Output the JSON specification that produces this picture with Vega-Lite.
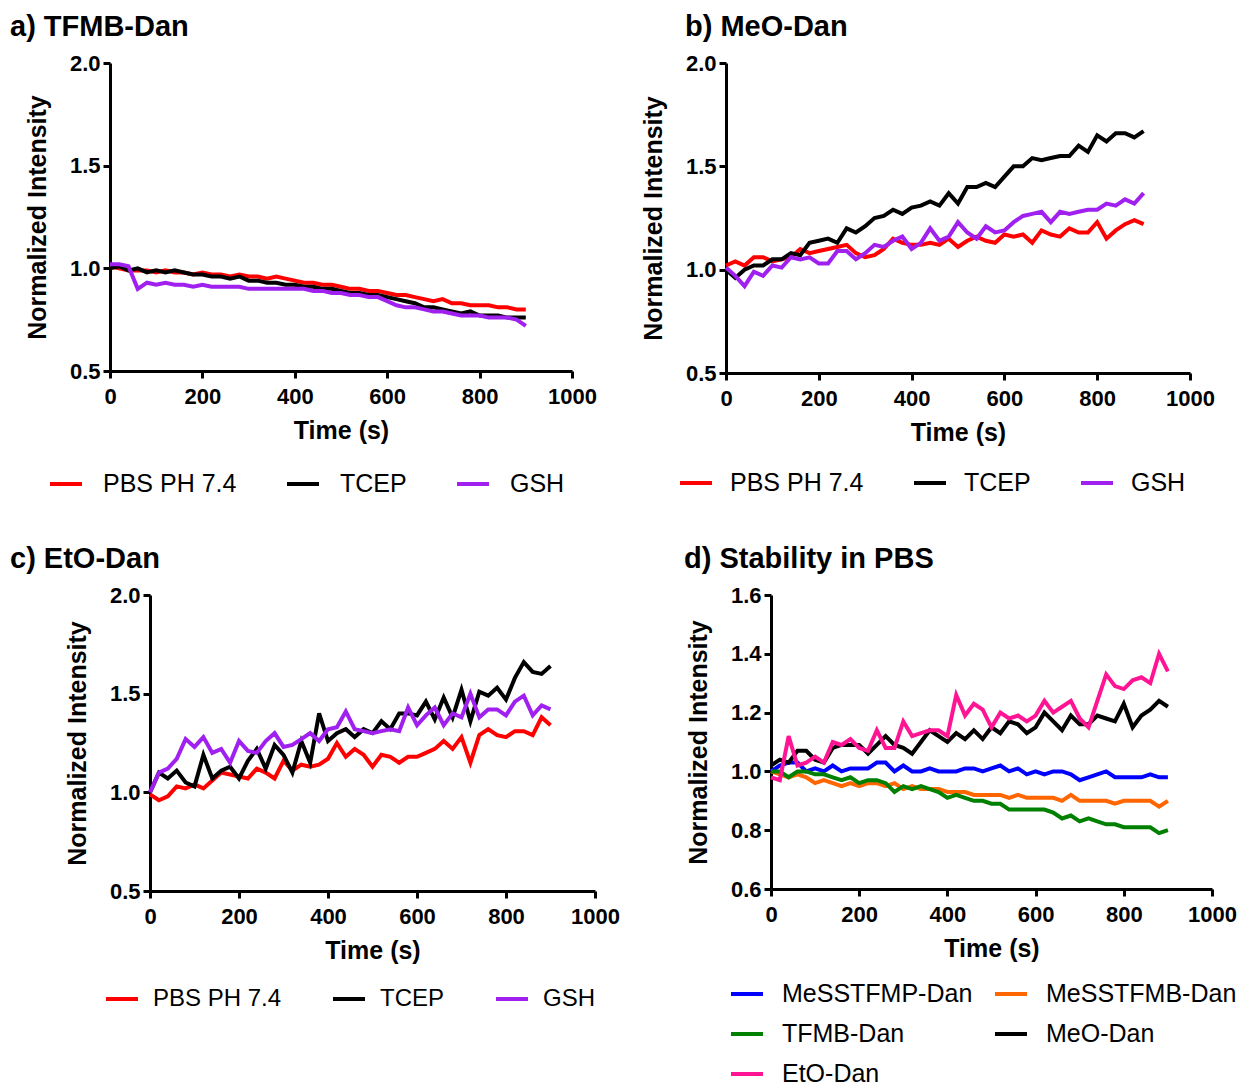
{
"$schema": "https://vega.github.io/schema/vega-lite/v6.json",
"background": "white",
"padding": {"left": 10, "top": 13, "right": 5, "bottom": 0},
"config": {
  "font": "Liberation Sans",
  "view": {"stroke": null},
  "axis": {"grid": false, "domainColor": "black", "domainWidth": 3, "tickColor": "black", "tickWidth": 3, "tickSize": 7, "labelFont": "Liberation Sans", "labelFontWeight": "bold", "labelFontSize": 22, "labelColor": "black", "labelFlush": false, "labelOverlap": false, "titleFont": "Liberation Sans", "titleFontSize": 25, "titleFontWeight": "bold", "titleColor": "black"},
  "axisX": {"labelPadding": 8, "titlePadding": 11},
  "axisY": {"labelPadding": 3, "titlePadding": 19},
  "legend": {"symbolType": "stroke", "symbolStrokeWidth": 4, "symbolSize": 1024, "labelFont": "Liberation Sans", "labelFontSize": 25, "labelColor": "black", "labelOffset": 19, "labelLimit": 400, "columnPadding": 42, "direction": "horizontal", "orient": "none"},
  "title": {"font": "Liberation Sans", "fontSize": 29, "fontWeight": "bold", "color": "black", "anchor": "start", "frame": "group", "offset": 10},
  "line": {"strokeWidth": 4}
},
"datasets": {
  "a": [
    {"t":0,"PBS":1.01,"TCEP":1.00,"GSH":1.02},{"t":20,"PBS":1.00,"TCEP":1.01,"GSH":1.02},{"t":40,"PBS":0.99,"TCEP":0.99,"GSH":1.01},{"t":60,"PBS":0.99,"TCEP":1.00,"GSH":0.90},{"t":80,"PBS":0.99,"TCEP":0.98,"GSH":0.93},{"t":100,"PBS":0.98,"TCEP":0.99,"GSH":0.92},{"t":120,"PBS":0.99,"TCEP":0.98,"GSH":0.93},{"t":140,"PBS":0.98,"TCEP":0.99,"GSH":0.92},{"t":160,"PBS":0.98,"TCEP":0.98,"GSH":0.92},{"t":180,"PBS":0.97,"TCEP":0.97,"GSH":0.91},{"t":200,"PBS":0.98,"TCEP":0.97,"GSH":0.92},{"t":220,"PBS":0.97,"TCEP":0.96,"GSH":0.91},{"t":240,"PBS":0.97,"TCEP":0.96,"GSH":0.91},{"t":260,"PBS":0.96,"TCEP":0.95,"GSH":0.91},{"t":280,"PBS":0.97,"TCEP":0.96,"GSH":0.91},{"t":300,"PBS":0.96,"TCEP":0.94,"GSH":0.90},{"t":320,"PBS":0.96,"TCEP":0.94,"GSH":0.90},{"t":340,"PBS":0.95,"TCEP":0.93,"GSH":0.90},{"t":360,"PBS":0.96,"TCEP":0.93,"GSH":0.90},{"t":380,"PBS":0.95,"TCEP":0.92,"GSH":0.90},{"t":400,"PBS":0.94,"TCEP":0.92,"GSH":0.90},{"t":420,"PBS":0.93,"TCEP":0.91,"GSH":0.90},{"t":440,"PBS":0.93,"TCEP":0.91,"GSH":0.89},{"t":460,"PBS":0.92,"TCEP":0.90,"GSH":0.89},{"t":480,"PBS":0.92,"TCEP":0.90,"GSH":0.88},{"t":500,"PBS":0.91,"TCEP":0.89,"GSH":0.88},{"t":520,"PBS":0.90,"TCEP":0.88,"GSH":0.87},{"t":540,"PBS":0.90,"TCEP":0.88,"GSH":0.87},{"t":560,"PBS":0.89,"TCEP":0.87,"GSH":0.86},{"t":580,"PBS":0.89,"TCEP":0.87,"GSH":0.86},{"t":600,"PBS":0.88,"TCEP":0.86,"GSH":0.84},{"t":620,"PBS":0.87,"TCEP":0.85,"GSH":0.82},{"t":640,"PBS":0.87,"TCEP":0.84,"GSH":0.81},{"t":660,"PBS":0.86,"TCEP":0.83,"GSH":0.81},{"t":680,"PBS":0.85,"TCEP":0.81,"GSH":0.80},{"t":700,"PBS":0.84,"TCEP":0.81,"GSH":0.79},{"t":720,"PBS":0.85,"TCEP":0.80,"GSH":0.79},{"t":740,"PBS":0.83,"TCEP":0.79,"GSH":0.78},{"t":760,"PBS":0.83,"TCEP":0.78,"GSH":0.77},{"t":780,"PBS":0.82,"TCEP":0.79,"GSH":0.77},{"t":800,"PBS":0.82,"TCEP":0.77,"GSH":0.77},{"t":820,"PBS":0.82,"TCEP":0.77,"GSH":0.76},{"t":840,"PBS":0.81,"TCEP":0.77,"GSH":0.76},{"t":860,"PBS":0.81,"TCEP":0.76,"GSH":0.76},{"t":880,"PBS":0.80,"TCEP":0.76,"GSH":0.75},{"t":900,"PBS":0.80,"TCEP":0.76,"GSH":0.72}
  ],
  "b": [
    {"t":0,"PBS":1.02,"TCEP":1.00,"GSH":1.01},{"t":20,"PBS":1.04,"TCEP":0.96,"GSH":0.97},{"t":40,"PBS":1.02,"TCEP":1.00,"GSH":0.92},{"t":60,"PBS":1.06,"TCEP":1.02,"GSH":0.99},{"t":80,"PBS":1.06,"TCEP":1.02,"GSH":0.97},{"t":100,"PBS":1.04,"TCEP":1.05,"GSH":1.02},{"t":120,"PBS":1.05,"TCEP":1.05,"GSH":1.01},{"t":140,"PBS":1.06,"TCEP":1.08,"GSH":1.06},{"t":160,"PBS":1.10,"TCEP":1.07,"GSH":1.05},{"t":180,"PBS":1.08,"TCEP":1.13,"GSH":1.06},{"t":200,"PBS":1.09,"TCEP":1.14,"GSH":1.03},{"t":220,"PBS":1.10,"TCEP":1.15,"GSH":1.03},{"t":240,"PBS":1.11,"TCEP":1.13,"GSH":1.09},{"t":260,"PBS":1.12,"TCEP":1.20,"GSH":1.09},{"t":280,"PBS":1.08,"TCEP":1.18,"GSH":1.05},{"t":300,"PBS":1.06,"TCEP":1.21,"GSH":1.08},{"t":320,"PBS":1.07,"TCEP":1.25,"GSH":1.12},{"t":340,"PBS":1.10,"TCEP":1.26,"GSH":1.11},{"t":360,"PBS":1.15,"TCEP":1.29,"GSH":1.14},{"t":380,"PBS":1.13,"TCEP":1.27,"GSH":1.16},{"t":400,"PBS":1.12,"TCEP":1.30,"GSH":1.10},{"t":420,"PBS":1.12,"TCEP":1.31,"GSH":1.13},{"t":440,"PBS":1.13,"TCEP":1.33,"GSH":1.20},{"t":460,"PBS":1.12,"TCEP":1.31,"GSH":1.14},{"t":480,"PBS":1.15,"TCEP":1.37,"GSH":1.16},{"t":500,"PBS":1.11,"TCEP":1.32,"GSH":1.23},{"t":520,"PBS":1.14,"TCEP":1.40,"GSH":1.18},{"t":540,"PBS":1.16,"TCEP":1.40,"GSH":1.15},{"t":560,"PBS":1.14,"TCEP":1.42,"GSH":1.21},{"t":580,"PBS":1.13,"TCEP":1.40,"GSH":1.18},{"t":600,"PBS":1.17,"TCEP":1.45,"GSH":1.19},{"t":620,"PBS":1.16,"TCEP":1.50,"GSH":1.23},{"t":640,"PBS":1.17,"TCEP":1.50,"GSH":1.26},{"t":660,"PBS":1.13,"TCEP":1.54,"GSH":1.27},{"t":680,"PBS":1.19,"TCEP":1.53,"GSH":1.28},{"t":700,"PBS":1.17,"TCEP":1.54,"GSH":1.23},{"t":720,"PBS":1.16,"TCEP":1.55,"GSH":1.28},{"t":740,"PBS":1.20,"TCEP":1.55,"GSH":1.27},{"t":760,"PBS":1.18,"TCEP":1.60,"GSH":1.28},{"t":780,"PBS":1.18,"TCEP":1.57,"GSH":1.29},{"t":800,"PBS":1.23,"TCEP":1.65,"GSH":1.29},{"t":820,"PBS":1.15,"TCEP":1.62,"GSH":1.32},{"t":840,"PBS":1.19,"TCEP":1.66,"GSH":1.31},{"t":860,"PBS":1.22,"TCEP":1.66,"GSH":1.34},{"t":880,"PBS":1.24,"TCEP":1.64,"GSH":1.32},{"t":900,"PBS":1.22,"TCEP":1.67,"GSH":1.37}
  ],
  "c": [
    {"t":0,"PBS":0.99,"TCEP":1.00,"GSH":1.00},{"t":20,"PBS":0.96,"TCEP":1.10,"GSH":1.10},{"t":40,"PBS":0.98,"TCEP":1.07,"GSH":1.12},{"t":60,"PBS":1.03,"TCEP":1.11,"GSH":1.17},{"t":80,"PBS":1.02,"TCEP":1.05,"GSH":1.27},{"t":100,"PBS":1.04,"TCEP":1.03,"GSH":1.23},{"t":120,"PBS":1.02,"TCEP":1.19,"GSH":1.28},{"t":140,"PBS":1.06,"TCEP":1.07,"GSH":1.20},{"t":160,"PBS":1.10,"TCEP":1.11,"GSH":1.22},{"t":180,"PBS":1.09,"TCEP":1.13,"GSH":1.15},{"t":200,"PBS":1.08,"TCEP":1.07,"GSH":1.26},{"t":220,"PBS":1.07,"TCEP":1.16,"GSH":1.21},{"t":240,"PBS":1.12,"TCEP":1.22,"GSH":1.20},{"t":260,"PBS":1.10,"TCEP":1.12,"GSH":1.26},{"t":280,"PBS":1.07,"TCEP":1.24,"GSH":1.30},{"t":300,"PBS":1.16,"TCEP":1.19,"GSH":1.23},{"t":320,"PBS":1.11,"TCEP":1.10,"GSH":1.24},{"t":340,"PBS":1.14,"TCEP":1.26,"GSH":1.27},{"t":360,"PBS":1.13,"TCEP":1.15,"GSH":1.30},{"t":380,"PBS":1.14,"TCEP":1.40,"GSH":1.26},{"t":400,"PBS":1.17,"TCEP":1.26,"GSH":1.32},{"t":420,"PBS":1.25,"TCEP":1.30,"GSH":1.33},{"t":440,"PBS":1.18,"TCEP":1.32,"GSH":1.41},{"t":460,"PBS":1.22,"TCEP":1.28,"GSH":1.32},{"t":480,"PBS":1.19,"TCEP":1.32,"GSH":1.31},{"t":500,"PBS":1.13,"TCEP":1.30,"GSH":1.30},{"t":520,"PBS":1.19,"TCEP":1.36,"GSH":1.31},{"t":540,"PBS":1.18,"TCEP":1.32,"GSH":1.32},{"t":560,"PBS":1.15,"TCEP":1.40,"GSH":1.31},{"t":580,"PBS":1.18,"TCEP":1.40,"GSH":1.43},{"t":600,"PBS":1.18,"TCEP":1.39,"GSH":1.34},{"t":620,"PBS":1.20,"TCEP":1.46,"GSH":1.39},{"t":640,"PBS":1.22,"TCEP":1.37,"GSH":1.43},{"t":660,"PBS":1.26,"TCEP":1.48,"GSH":1.34},{"t":680,"PBS":1.22,"TCEP":1.38,"GSH":1.40},{"t":700,"PBS":1.28,"TCEP":1.52,"GSH":1.38},{"t":720,"PBS":1.15,"TCEP":1.36,"GSH":1.50},{"t":740,"PBS":1.29,"TCEP":1.51,"GSH":1.38},{"t":760,"PBS":1.32,"TCEP":1.49,"GSH":1.42},{"t":780,"PBS":1.29,"TCEP":1.53,"GSH":1.42},{"t":800,"PBS":1.28,"TCEP":1.47,"GSH":1.39},{"t":820,"PBS":1.31,"TCEP":1.58,"GSH":1.46},{"t":840,"PBS":1.31,"TCEP":1.66,"GSH":1.49},{"t":860,"PBS":1.29,"TCEP":1.61,"GSH":1.39},{"t":880,"PBS":1.38,"TCEP":1.60,"GSH":1.44},{"t":900,"PBS":1.34,"TCEP":1.64,"GSH":1.42}
  ],
  "d": [
    {"t":0,"MeSSTFMP-Dan":1.00,"MeSSTFMB-Dan":1.00,"TFMB-Dan":1.00,"MeO-Dan":1.02,"EtO-Dan":0.98},
    {"t":20,"MeSSTFMP-Dan":1.02,"MeSSTFMB-Dan":0.99,"TFMB-Dan":1.00,"MeO-Dan":1.04,"EtO-Dan":0.97},
    {"t":40,"MeSSTFMP-Dan":1.03,"MeSSTFMB-Dan":0.98,"TFMB-Dan":0.98,"MeO-Dan":1.03,"EtO-Dan":1.12},
    {"t":60,"MeSSTFMP-Dan":1.03,"MeSSTFMB-Dan":0.99,"TFMB-Dan":1.00,"MeO-Dan":1.07,"EtO-Dan":1.02},
    {"t":80,"MeSSTFMP-Dan":1.00,"MeSSTFMB-Dan":0.98,"TFMB-Dan":1.00,"MeO-Dan":1.07,"EtO-Dan":1.03},
    {"t":100,"MeSSTFMP-Dan":1.01,"MeSSTFMB-Dan":0.96,"TFMB-Dan":0.99,"MeO-Dan":1.04,"EtO-Dan":1.05},
    {"t":120,"MeSSTFMP-Dan":1.00,"MeSSTFMB-Dan":0.97,"TFMB-Dan":0.99,"MeO-Dan":1.03,"EtO-Dan":1.03},
    {"t":140,"MeSSTFMP-Dan":1.02,"MeSSTFMB-Dan":0.96,"TFMB-Dan":0.98,"MeO-Dan":1.08,"EtO-Dan":1.10},
    {"t":160,"MeSSTFMP-Dan":1.00,"MeSSTFMB-Dan":0.95,"TFMB-Dan":0.97,"MeO-Dan":1.09,"EtO-Dan":1.09},
    {"t":180,"MeSSTFMP-Dan":1.01,"MeSSTFMB-Dan":0.96,"TFMB-Dan":0.98,"MeO-Dan":1.09,"EtO-Dan":1.11},
    {"t":200,"MeSSTFMP-Dan":1.01,"MeSSTFMB-Dan":0.95,"TFMB-Dan":0.96,"MeO-Dan":1.09,"EtO-Dan":1.08},
    {"t":220,"MeSSTFMP-Dan":1.01,"MeSSTFMB-Dan":0.96,"TFMB-Dan":0.97,"MeO-Dan":1.06,"EtO-Dan":1.07},
    {"t":240,"MeSSTFMP-Dan":1.03,"MeSSTFMB-Dan":0.96,"TFMB-Dan":0.97,"MeO-Dan":1.09,"EtO-Dan":1.14},
    {"t":260,"MeSSTFMP-Dan":1.03,"MeSSTFMB-Dan":0.95,"TFMB-Dan":0.96,"MeO-Dan":1.12,"EtO-Dan":1.08},
    {"t":280,"MeSSTFMP-Dan":1.00,"MeSSTFMB-Dan":0.96,"TFMB-Dan":0.93,"MeO-Dan":1.09,"EtO-Dan":1.08},
    {"t":300,"MeSSTFMP-Dan":1.02,"MeSSTFMB-Dan":0.94,"TFMB-Dan":0.95,"MeO-Dan":1.08,"EtO-Dan":1.17},
    {"t":320,"MeSSTFMP-Dan":1.00,"MeSSTFMB-Dan":0.95,"TFMB-Dan":0.94,"MeO-Dan":1.06,"EtO-Dan":1.12},
    {"t":340,"MeSSTFMP-Dan":1.00,"MeSSTFMB-Dan":0.94,"TFMB-Dan":0.95,"MeO-Dan":1.10,"EtO-Dan":1.13},
    {"t":360,"MeSSTFMP-Dan":1.01,"MeSSTFMB-Dan":0.94,"TFMB-Dan":0.94,"MeO-Dan":1.14,"EtO-Dan":1.14},
    {"t":380,"MeSSTFMP-Dan":1.00,"MeSSTFMB-Dan":0.94,"TFMB-Dan":0.93,"MeO-Dan":1.12,"EtO-Dan":1.14},
    {"t":400,"MeSSTFMP-Dan":1.00,"MeSSTFMB-Dan":0.93,"TFMB-Dan":0.91,"MeO-Dan":1.10,"EtO-Dan":1.12},
    {"t":420,"MeSSTFMP-Dan":1.00,"MeSSTFMB-Dan":0.93,"TFMB-Dan":0.92,"MeO-Dan":1.13,"EtO-Dan":1.26},
    {"t":440,"MeSSTFMP-Dan":1.01,"MeSSTFMB-Dan":0.93,"TFMB-Dan":0.91,"MeO-Dan":1.11,"EtO-Dan":1.19},
    {"t":460,"MeSSTFMP-Dan":1.01,"MeSSTFMB-Dan":0.92,"TFMB-Dan":0.90,"MeO-Dan":1.14,"EtO-Dan":1.23},
    {"t":480,"MeSSTFMP-Dan":1.00,"MeSSTFMB-Dan":0.92,"TFMB-Dan":0.90,"MeO-Dan":1.11,"EtO-Dan":1.21},
    {"t":500,"MeSSTFMP-Dan":1.01,"MeSSTFMB-Dan":0.92,"TFMB-Dan":0.89,"MeO-Dan":1.15,"EtO-Dan":1.15},
    {"t":520,"MeSSTFMP-Dan":1.02,"MeSSTFMB-Dan":0.92,"TFMB-Dan":0.89,"MeO-Dan":1.13,"EtO-Dan":1.20},
    {"t":540,"MeSSTFMP-Dan":1.00,"MeSSTFMB-Dan":0.91,"TFMB-Dan":0.87,"MeO-Dan":1.17,"EtO-Dan":1.18},
    {"t":560,"MeSSTFMP-Dan":1.01,"MeSSTFMB-Dan":0.92,"TFMB-Dan":0.87,"MeO-Dan":1.16,"EtO-Dan":1.19},
    {"t":580,"MeSSTFMP-Dan":0.99,"MeSSTFMB-Dan":0.91,"TFMB-Dan":0.87,"MeO-Dan":1.13,"EtO-Dan":1.17},
    {"t":600,"MeSSTFMP-Dan":1.00,"MeSSTFMB-Dan":0.91,"TFMB-Dan":0.87,"MeO-Dan":1.15,"EtO-Dan":1.19},
    {"t":620,"MeSSTFMP-Dan":0.99,"MeSSTFMB-Dan":0.91,"TFMB-Dan":0.87,"MeO-Dan":1.20,"EtO-Dan":1.24},
    {"t":640,"MeSSTFMP-Dan":1.00,"MeSSTFMB-Dan":0.91,"TFMB-Dan":0.86,"MeO-Dan":1.17,"EtO-Dan":1.20},
    {"t":660,"MeSSTFMP-Dan":1.00,"MeSSTFMB-Dan":0.90,"TFMB-Dan":0.84,"MeO-Dan":1.14,"EtO-Dan":1.22},
    {"t":680,"MeSSTFMP-Dan":0.99,"MeSSTFMB-Dan":0.92,"TFMB-Dan":0.85,"MeO-Dan":1.19,"EtO-Dan":1.24},
    {"t":700,"MeSSTFMP-Dan":0.97,"MeSSTFMB-Dan":0.90,"TFMB-Dan":0.83,"MeO-Dan":1.16,"EtO-Dan":1.18},
    {"t":720,"MeSSTFMP-Dan":0.98,"MeSSTFMB-Dan":0.90,"TFMB-Dan":0.84,"MeO-Dan":1.16,"EtO-Dan":1.15},
    {"t":740,"MeSSTFMP-Dan":0.99,"MeSSTFMB-Dan":0.90,"TFMB-Dan":0.83,"MeO-Dan":1.19,"EtO-Dan":1.24},
    {"t":760,"MeSSTFMP-Dan":1.00,"MeSSTFMB-Dan":0.90,"TFMB-Dan":0.82,"MeO-Dan":1.18,"EtO-Dan":1.33},
    {"t":780,"MeSSTFMP-Dan":0.98,"MeSSTFMB-Dan":0.89,"TFMB-Dan":0.82,"MeO-Dan":1.17,"EtO-Dan":1.29},
    {"t":800,"MeSSTFMP-Dan":0.98,"MeSSTFMB-Dan":0.90,"TFMB-Dan":0.81,"MeO-Dan":1.23,"EtO-Dan":1.28},
    {"t":820,"MeSSTFMP-Dan":0.98,"MeSSTFMB-Dan":0.90,"TFMB-Dan":0.81,"MeO-Dan":1.15,"EtO-Dan":1.31},
    {"t":840,"MeSSTFMP-Dan":0.98,"MeSSTFMB-Dan":0.90,"TFMB-Dan":0.81,"MeO-Dan":1.19,"EtO-Dan":1.32},
    {"t":860,"MeSSTFMP-Dan":0.99,"MeSSTFMB-Dan":0.90,"TFMB-Dan":0.81,"MeO-Dan":1.21,"EtO-Dan":1.30},
    {"t":880,"MeSSTFMP-Dan":0.98,"MeSSTFMB-Dan":0.88,"TFMB-Dan":0.79,"MeO-Dan":1.24,"EtO-Dan":1.40},
    {"t":900,"MeSSTFMP-Dan":0.98,"MeSSTFMB-Dan":0.90,"TFMB-Dan":0.80,"MeO-Dan":1.22,"EtO-Dan":1.34}
  ]
},
"resolve": {"scale": {"color": "independent"}, "legend": {"color": "independent"}},
"columns": 1,
"align": "none",
"spacing": 48,
"concat": [
  {
    "spacing": 44,
    "resolve": {"scale": {"color": "independent"}, "legend": {"color": "independent"}},
    "hconcat": [
      {
        "width": 462, "height": 308,
        "title": {"text": "a) TFMB-Dan", "dx": -100},
        "data": {"name": "a"},
        "transform": [{"fold": ["PBS", "TCEP", "GSH"], "as": ["s", "v"]}],
        "mark": {"type": "line", "strokeWidth": 4},
        "encoding": {
          "x": {"field": "t", "type": "quantitative", "scale": {"domain": [0, 1000], "nice": false}, "axis": {"values": [0, 200, 400, 600, 800, 1000], "format": "d", "title": "Time (s)"}},
          "y": {"field": "v", "type": "quantitative", "scale": {"domain": [0.5, 2.0], "nice": false, "zero": false}, "axis": {"values": [0.5, 1.0, 1.5, 2.0], "format": ".1f", "title": "Normalized Intensity"}},
          "color": {"field": "s", "type": "nominal", "scale": {"domain": ["PBS", "TCEP", "GSH"], "range": ["#ff0000", "#000000", "#a020f0"]}, "legend": {"title": null, "orient": "none", "legendX": -62, "legendY": 403, "direction": "horizontal", "labelExpr": "datum.label == 'PBS' ? 'PBS PH 7.4' : datum.label"}}
        }
      },
      {
        "width": 464, "height": 310,
        "title": {"text": "b) MeO-Dan", "dx": -41},
        "data": {"name": "b"},
        "transform": [{"fold": ["PBS", "TCEP", "GSH"], "as": ["s", "v"]}],
        "mark": {"type": "line", "strokeWidth": 4},
        "encoding": {
          "x": {"field": "t", "type": "quantitative", "scale": {"domain": [0, 1000], "nice": false}, "axis": {"values": [0, 200, 400, 600, 800, 1000], "format": "d", "title": "Time (s)"}},
          "y": {"field": "v", "type": "quantitative", "scale": {"domain": [0.5, 2.0], "nice": false, "zero": false}, "axis": {"values": [0.5, 1.0, 1.5, 2.0], "format": ".1f", "title": "Normalized Intensity"}},
          "color": {"field": "s", "type": "nominal", "scale": {"domain": ["PBS", "TCEP", "GSH"], "range": ["#ff0000", "#000000", "#a020f0"]}, "legend": {"title": null, "orient": "none", "legendX": -48, "legendY": 402, "direction": "horizontal", "labelOffset": 16, "labelExpr": "datum.label == 'PBS' ? 'PBS PH 7.4' : datum.label"}}
        }
      }
    ]
  },
  {
    "spacing": 64,
    "resolve": {"scale": {"color": "independent"}, "legend": {"color": "independent"}},
    "hconcat": [
      {
        "width": 485, "height": 296,
        "title": {"text": "c) EtO-Dan", "dx": -100},
        "data": {"name": "c"},
        "transform": [{"fold": ["PBS", "TCEP", "GSH"], "as": ["s", "v"]}],
        "mark": {"type": "line", "strokeWidth": 4},
        "encoding": {
          "x": {"field": "t", "type": "quantitative", "scale": {"domain": [0, 1000], "nice": false, "range": [40, 485]}, "axis": {"values": [0, 200, 400, 600, 800, 1000], "format": "d", "title": "Time (s)"}},
          "y": {"field": "v", "type": "quantitative", "scale": {"domain": [0.5, 2.0], "nice": false, "zero": false}, "axis": {"values": [0.5, 1.0, 1.5, 2.0], "format": ".1f", "title": "Normalized Intensity", "offset": -40}},
          "color": {"field": "s", "type": "nominal", "scale": {"domain": ["PBS", "TCEP", "GSH"], "range": ["#ff0000", "#000000", "#a020f0"]}, "legend": {"title": null, "orient": "none", "legendX": -6, "legendY": 386, "direction": "horizontal", "labelFontSize": 24, "labelOffset": 13, "columnPadding": 43, "labelExpr": "datum.label == 'PBS' ? 'PBS PH 7.4' : datum.label"}}
        }
      },
      {
        "width": 441, "height": 294,
        "title": {"text": "d) Stability in PBS", "dx": -87},
        "data": {"name": "d"},
        "transform": [{"fold": ["MeSSTFMP-Dan", "MeSSTFMB-Dan", "TFMB-Dan", "MeO-Dan", "EtO-Dan"], "as": ["s", "v"]}],
        "mark": {"type": "line", "strokeWidth": 4},
        "encoding": {
          "x": {"field": "t", "type": "quantitative", "scale": {"domain": [0, 1000], "nice": false}, "axis": {"values": [0, 200, 400, 600, 800, 1000], "format": "d", "title": "Time (s)"}},
          "y": {"field": "v", "type": "quantitative", "scale": {"domain": [0.6, 1.6], "nice": false, "zero": false}, "axis": {"values": [0.6, 0.8, 1.0, 1.2, 1.4, 1.6], "format": ".1f", "title": "Normalized Intensity"}},
          "color": {"field": "s", "type": "nominal", "scale": {"domain": ["MeSSTFMP-Dan", "MeSSTFMB-Dan", "TFMB-Dan", "MeO-Dan", "EtO-Dan"], "range": ["#0000ff", "#ff6600", "#008000", "#000000", "#ff1493"]}, "legend": {"title": null, "orient": "none", "legendX": -42, "legendY": 381, "direction": "horizontal", "columns": 2, "columnPadding": 14, "rowPadding": 9, "labelOffset": 17}}
        }
      }
    ]
  }
]
}
